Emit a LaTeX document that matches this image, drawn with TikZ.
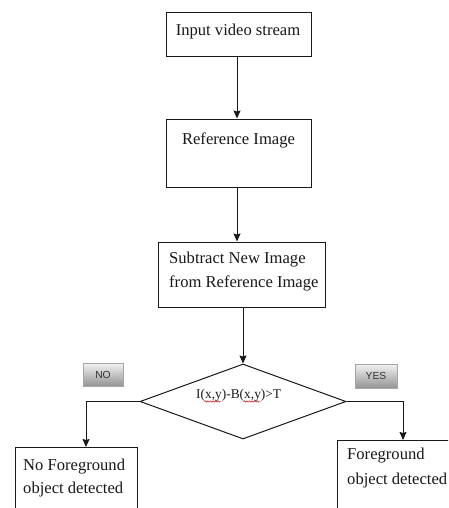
\documentclass[tikz,border=0pt]{standalone}
\usepackage{fontspec}
\setmainfont{Liberation Serif}
\newfontfamily\btnfont{Liberation Sans}
\usetikzlibrary{arrows.meta,shapes.geometric,decorations.pathmorphing}

\tikzset{
  line/.style={draw=black!90, line width=1pt},
  flow/.style={line, -{Stealth[length=8pt,width=7pt,inset=1pt]}},
  stepbox/.style={line, rectangle, inner sep=0pt, fill=white},
  txt/.style={inner sep=0pt, text=black!90, font=\fontsize{16.6}{20}\selectfont},
  condtxt/.style={inner sep=0pt, text=black!90, font=\fontsize{13.4}{16}\selectfont},
  btn/.style={rectangle, draw=black!35, line width=0.6pt, inner sep=0pt,
    top color=black!5, bottom color=black!42,
    font=\btnfont\fontsize{10.3}{12}\selectfont, text=black!80},
  squig/.style={draw=red!80!black, line width=0.45pt,
    decorate, decoration={snake, amplitude=0.7pt, segment length=2.6pt}}
}

\begin{document}
\begin{tikzpicture}[x=1pt, y=-1pt]
  \useasboundingbox (0,0) rectangle (448,508);
  \clip (0,0) rectangle (448,508);
  \fill[white] (0,0) rectangle (448,508);

  % process boxes
  \node[stepbox, minimum width=145pt, minimum height=44pt] (input) at (238.5,35) {};
  \node[stepbox, minimum width=145pt, minimum height=68pt] (ref) at (238.5,153) {};
  \node[stepbox, minimum width=167pt, minimum height=65pt] (sub) at (241.5,274.5) {};

  % outcome boxes run past the lower and right edges
  \node[stepbox, minimum width=122pt, minimum height=80pt, anchor=north west] (nofg) at (15,447) {};
  \node[stepbox, minimum width=130pt, minimum height=80pt, anchor=north west] (fg) at (337,440) {};

  % decision
  \node[line, diamond, minimum width=206pt, minimum height=75pt, inner sep=0pt] (cond) at (243,401.5) {};

  % labels
  \node[txt, anchor=base] (tinput) at (238,36) {Input video stream};
  \node[txt, anchor=base] (tref) at (238.5,144) {Reference Image};
  \node[txt, anchor=base west] (tsub1) at (169,263) {Subtract New Image};
  \node[txt, anchor=base west] (tsub2) at (169,287) {from Reference Image};
  \node[txt, anchor=base west] (tno1) at (23,470) {No Foreground};
  \node[txt, anchor=base west] (tno2) at (23,493) {object detected};
  \node[txt, anchor=base west] (tfg1) at (347,459) {Foreground};
  \node[txt, anchor=base west] (tfg2) at (347,484) {object detected};
  \node[condtxt, anchor=base west] (tcond) at (196,398) {I(x,y)-B(x,y)>T};

  % spell-check marks under the variables
  \draw[squig] (204.5,401.5) -- (221,401.5);
  \draw[squig] (243.5,401.5) -- (260.5,401.5);

  % answer buttons
  \node[btn, minimum width=40pt, minimum height=23pt] (no) at (103,374.5) {NO};
  \node[btn, minimum width=42pt, minimum height=24pt] (yes) at (376,376) {YES};

  % connectors
  \draw[flow] (input.south -| 237,0) -- (ref.north -| 237,0);
  \draw[flow] (ref.south -| 237,0) -- (sub.north -| 237,0);
  \draw[flow] (sub.south -| cond.north) -- (cond.north);
  \draw[flow] (cond.west) -| (nofg.north -| 86,0);
  \draw[flow] (cond.east) -| (fg.north -| 403,0);
\end{tikzpicture}
\end{document}
